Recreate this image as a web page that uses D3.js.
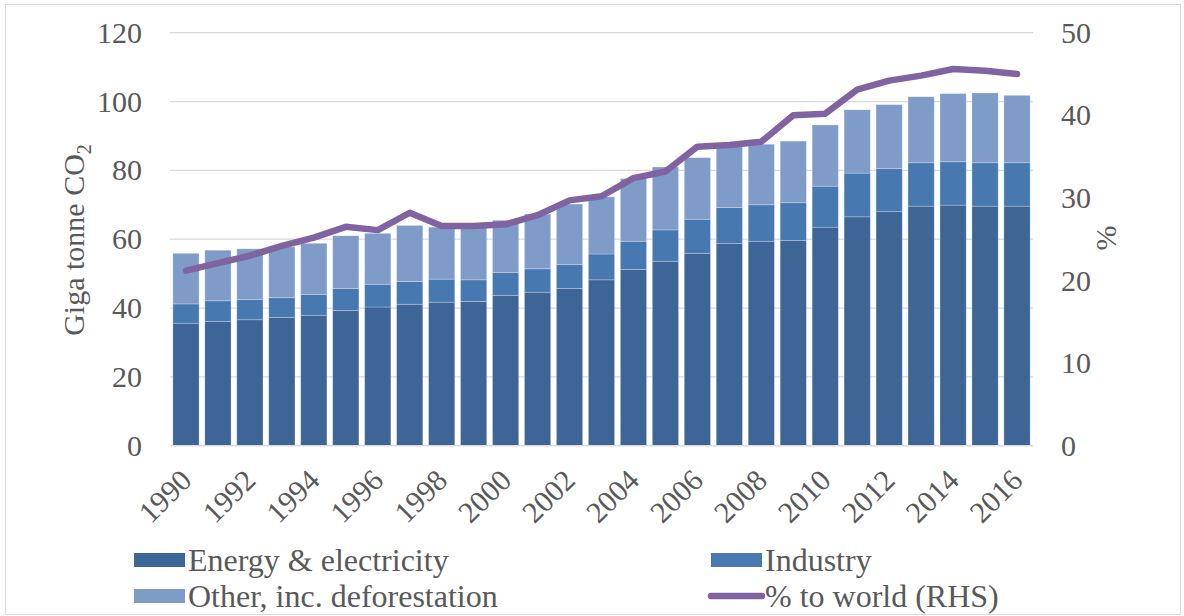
<!DOCTYPE html>
<html>
<head>
<meta charset="utf-8">
<script src="https://cdn.jsdelivr.net/npm/d3@7"></script>
<style>
  html, body { margin: 0; padding: 0; background: #fff; }
  svg { display: block; }
  svg text { font-family: "Liberation Serif", "Times New Roman", serif; }
</style>
</head>
<body>
<svg id="chart" width="1184" height="616"></svg>
<script>
// Emissions by source (Gt CO2) and share of world total (%), 1990-2016
const years = d3.range(1990, 2017);
const energy   = [35.6,36.1,36.6,37.3,37.9,39.3,40.3,41.1,41.7,41.9,43.7,44.6,45.7,48.2,51.2,53.6,55.9,58.8,59.4,59.6,63.5,66.5,68.0,69.6,69.9,69.6,69.6];
const industry = [5.6,6.0,5.9,5.7,6.0,6.4,6.6,6.6,6.7,6.3,6.6,6.8,6.9,7.5,8.2,9.1,9.9,10.4,10.6,11.0,11.9,12.7,12.5,12.6,12.6,12.6,12.6];
const other    = [14.7,14.7,14.7,14.8,14.9,15.3,14.8,16.3,15.1,15.5,15.2,15.9,17.6,16.6,18.2,18.3,17.9,17.8,17.6,17.9,17.8,18.4,18.6,19.2,19.8,20.3,19.6];
const share    = [21.2,22.1,23.0,24.2,25.2,26.5,26.1,28.2,26.6,26.6,26.8,27.9,29.7,30.2,32.4,33.2,36.2,36.4,36.8,40.0,40.2,43.1,44.2,44.8,45.6,45.4,45.0];
const leftTicks  = [0, 20, 40, 60, 80, 100, 120];
const rightTicks = [0, 10, 20, 30, 40, 50];
const yearLabels = years.filter(y => y % 2 === 0);

const seriesNames = ["Energy & electricity", "Industry", "Other, inc. deforestation"];
const seriesKeys = ["energy", "industry", "other"];
const colors = { energy: "#3d6697", industry: "#4878b0", other: "#7f9cc8" };
const lineColor = "#8064a2";
const textColor = "#595959";

const rows = years.map((y, i) => ({ year: y, energy: energy[i], industry: industry[i], other: other[i], share: share[i] }));

const svg = d3.select("#chart");
const plot = { left: 170, right: 1033, top: 32.7, bottom: 445.7 };

// outer chart border
svg.append("rect")
  .attr("x", 5.5).attr("y", 4.5).attr("width", 1175).attr("height", 610)
  .attr("fill", "#fff").attr("stroke", "#d9d9d9").attr("stroke-width", 1);

const x = d3.scaleBand().domain(years).range([plot.left, plot.right]).paddingInner(0.18).paddingOuter(0.09);
const yL = d3.scaleLinear().domain([0, 120]).range([plot.bottom, plot.top]);
const yR = d3.scaleLinear().domain([0, 50]).range([plot.bottom, plot.top]);

// gridlines
svg.append("g").selectAll("line").data(leftTicks).join("line")
  .attr("x1", plot.left).attr("x2", plot.right)
  .attr("y1", d => yL(d)).attr("y2", d => yL(d))
  .attr("stroke", "#d9d9d9").attr("stroke-width", 1.3);

// left axis (Gt CO2)
const leftAxis = svg.append("g").attr("transform", `translate(${plot.left},0)`)
  .call(d3.axisLeft(yL).tickValues(leftTicks).tickSize(0).tickPadding(28));
leftAxis.select(".domain").remove();
leftAxis.attr("font-family", null);
leftAxis.selectAll("text").attr("font-size", 30).attr("fill", textColor);

// right axis (%)
const rightAxis = svg.append("g").attr("transform", `translate(${plot.right},0)`)
  .call(d3.axisRight(yR).tickValues(rightTicks).tickSize(0).tickPadding(28));
rightAxis.select(".domain").remove();
rightAxis.attr("font-family", null);
rightAxis.selectAll("text").attr("font-size", 30).attr("fill", textColor);

// stacked bars
const stack = d3.stack().keys(seriesKeys)(rows);
svg.append("g").selectAll("g").data(stack).join("g")
  .attr("fill", d => colors[d.key])
  .selectAll("rect").data(d => d).join("rect")
  .attr("x", d => x(d.data.year))
  .attr("width", x.bandwidth())
  .attr("y", d => yL(d[1]))
  .attr("height", d => yL(d[0]) - yL(d[1]))
  .attr("stroke", "rgba(255,255,255,0.3)").attr("stroke-width", 0.8);

// baseline
svg.append("line")
  .attr("x1", plot.left).attr("x2", plot.right)
  .attr("y1", yL(0)).attr("y2", yL(0))
  .attr("stroke", "#d9d9d9").attr("stroke-width", 1.3);

// share line on the right-hand scale
const line = d3.line().x(d => x(d.year) + x.bandwidth() / 2).y(d => yR(d.share));
svg.append("path").datum(rows)
  .attr("d", line).attr("fill", "none")
  .attr("stroke", lineColor).attr("stroke-width", 6.5)
  .attr("stroke-linejoin", "round").attr("stroke-linecap", "round");

// year labels, rotated
svg.append("g").selectAll("text").data(yearLabels).join("text")
  .attr("transform", d => `translate(${x(d) + x.bandwidth() / 2},${plot.bottom + 29}) rotate(-45)`)
  .attr("text-anchor", "end").attr("dy", "0.35em")
  .attr("font-size", 30).attr("fill", textColor)
  .text(d => d);

// axis titles
const yTitle = svg.append("text")
  .attr("transform", `translate(84,240) rotate(-90)`)
  .attr("text-anchor", "middle")
  .attr("font-size", 30).attr("fill", textColor);
yTitle.append("tspan").text("Giga tonne CO");
yTitle.append("tspan").attr("font-size", 20).attr("dy", 7).text("2");

svg.append("text")
  .attr("transform", `translate(1105,238) rotate(-90)`)
  .attr("text-anchor", "middle").attr("dy", "0.35em")
  .attr("font-size", 30).attr("fill", textColor)
  .text("%");

// legend
const legendItems = [
  { label: seriesNames[0], key: "energy", x: 134, y: 560 },
  { label: seriesNames[1], key: "industry", x: 711, y: 560 },
  { label: seriesNames[2], key: "other", x: 134, y: 596 },
  { label: "% to world (RHS)", key: "line", x: 711, y: 596 }
];
const lg = svg.append("g").selectAll("g").data(legendItems).join("g")
  .attr("transform", d => `translate(${d.x},${d.y})`);
lg.filter(d => d.key !== "line").append("rect")
  .attr("x", 0).attr("y", -7).attr("width", 51).attr("height", 14)
  .attr("fill", d => colors[d.key]);
lg.filter(d => d.key === "line").append("line")
  .attr("x1", 0).attr("x2", 51).attr("y1", 0).attr("y2", 0)
  .attr("stroke", lineColor).attr("stroke-width", 6.5).attr("stroke-linecap", "round");
lg.append("text")
  .attr("x", 54).attr("dy", "0.35em")
  .attr("font-size", 32).attr("fill", textColor)
  .text(d => d.label);
</script>
</body>
</html>
